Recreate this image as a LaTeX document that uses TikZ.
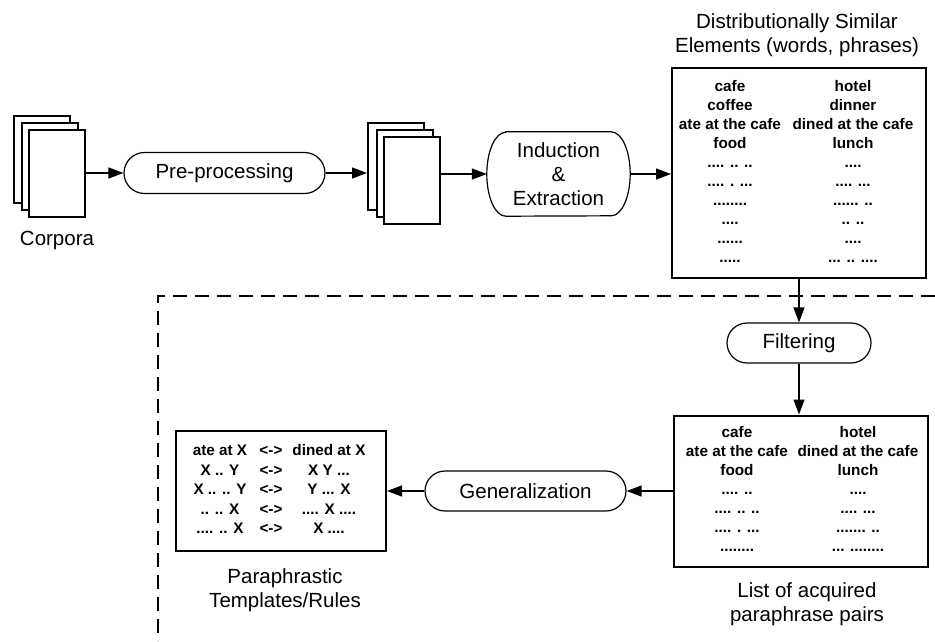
\documentclass[tikz,border=0pt]{standalone}
\usepackage{fontspec}
\setmainfont{Liberation Sans}
\usepackage{array}
\usetikzlibrary{positioning, arrows.meta, shapes.misc}
\newcolumntype{C}[1]{>{\centering\arraybackslash}p{#1}}
\tikzset{
 docpage/.style={rectangle, draw=black, fill=white, line width=2pt, minimum width=56pt, minimum height=87pt, inner sep=0pt},
 procnode/.style={rounded rectangle, draw=black, line width=1.2pt, minimum height=41pt, inner sep=0pt, font=\fontsize{20.5}{24}\selectfont},
 listbox/.style={rectangle, draw=black, line width=2pt, inner sep=0pt, font=\fontsize{15.3}{19}\selectfont\bfseries},
 captionnode/.style={align=center, inner sep=0pt, font=\fontsize{20.5}{24}\selectfont},
 link/.style={->, line width=1.3pt},
 >={Triangle[length=15pt,width=11pt]}
}

\begin{document}
\begin{tikzpicture}[x=1pt, y=-1pt]
 \useasboundingbox (0,0) rectangle (935,641);
 %Corpora pages
 \node[docpage] (corpback)  at (41.5,159) {};
 \node[docpage] (corpmid)   at (50,166) {};
 \node[docpage] (corpfront) at (57,173) {};
 \node[captionnode] (corplabel) [below=13pt of corpfront] {Corpora};

 %Preprocessed pages
 \node[procnode, minimum width=201pt] (preproc) at (224.5,173) {Pre-processing};
 \node[docpage] (docback)  at (396,166) {};
 \node[docpage] (docmid)   at (405,173) {};
 \node[docpage] (docfront) at (412,180) {};

 \node[minimum width=143pt, minimum height=84pt, inner sep=0pt, align=center, font=\fontsize{20.5}{24}\selectfont] (induct) at (558.5,174) {Induction\\\&\\Extraction};
 \draw[line width=1.2pt] ([xshift=19pt]induct.north west) -- ([xshift=-19pt]induct.north east)
   arc[start angle=90, end angle=-90, x radius=19pt, y radius=42pt]
   -- ([xshift=19pt]induct.south west)
   arc[start angle=270, end angle=90, x radius=19pt, y radius=42pt] -- cycle;

 %Similar elements
 \node[listbox, minimum width=254pt, minimum height=210pt] (simbox) at (799,173) {%
  \begin{tabular}{@{}C{108pt}@{}C{138pt}@{}}
   cafe & hotel\\
   coffee & dinner\\
   ate at the cafe & dined at the cafe\\
   food & lunch\\
   .... .. .. & ....\\
   .... . ... & .... ...\\
   ........ & ...... ..\\
   .... & .. ..\\
   ...... & ....\\
   ..... & ... .. ....
  \end{tabular}};
 \node[captionnode] (simtitle) at (797,35) {Distributionally Similar\\Elements (words, phrases)};

 \node[procnode, minimum width=144pt, minimum height=40pt] (filter) at (799,343) {Filtering};

 %Paraphrase pairs
 \node[listbox, minimum width=254pt, minimum height=151pt] (pairbox) at (801,491) {%
  \begin{tabular}{@{}C{114pt}@{}C{128pt}@{}}
   cafe & hotel\\
   ate at the cafe & dined at the cafe\\
   food & lunch\\
   .... .. & ....\\
   .... .. .. & .... ...\\
   .... . ... & ....... ..\\
   ........ & ... ........
  \end{tabular}};
 \node[captionnode] (pairlabel) at (807,604) {List of acquired\\paraphrase pairs};

 \node[procnode, minimum width=201pt, minimum height=40pt] (general) at (525.5,491) {Generalization};

 %Templates
 \node[listbox, minimum width=210pt, minimum height=120pt, font=\fontsize{15.3}{19.5}\selectfont\bfseries] (rulebox) at (281,491) {%
  \begin{tabular}{@{}C{60pt}@{}C{42pt}@{}C{74pt}@{\hspace{6pt}}}
   ate at X & <-> & dined at X\\
   X .. Y & <-> & X Y ...\\
   X .. .. Y & <-> & Y ... X\\
   .. .. X & <-> & .... X ....\\
   .... .. X & <-> & X ....
  \end{tabular}};
 \node[captionnode] (rulelabel) at (285,590) {Paraphrastic\\Templates/Rules};

 %Dashed region
 \coordinate (dashright)  at (935,296);
 \coordinate (dashcorner) at (158,296);
 \coordinate (dashbottom) at (158,641);
 \draw[line width=1.4pt, dash pattern=on 14pt off 8pt] (dashright) -- (dashcorner) -- (dashbottom);

 %Lines
 \draw[link] (corpfront.east) -- (preproc.west);
 \draw[link] (preproc.east) -- (preproc.east -| docback.west);
 \draw[link] (induct.west -| docfront.east) -- (induct.west);
 \draw[link] (induct.east) -- (induct.east -| simbox.west);
 \draw[link] (simbox.south) -- (filter.north);
 \draw[link] (filter.south) -- (filter.south |- pairbox.north);
 \draw[link] (pairbox.west) -- (general.east);
 \draw[link] (general.west) -- (rulebox.east);
\end{tikzpicture}
\end{document}
